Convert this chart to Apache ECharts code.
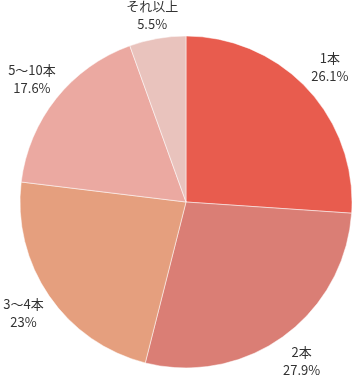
<!DOCTYPE html>
<html>
<head>
<meta charset="utf-8">
<script src="https://cdn.jsdelivr.net/npm/echarts@6/dist/echarts.min.js"></script>
<style>
  html, body { margin: 0; padding: 0; background: #fff; }
  #chart { width: 352px; height: 377px; }
</style>
</head>
<body>
<div id="chart"></div>
<script>
const categories = ['1本', '2本', '3～4本', '5～10本', 'それ以上']
const values = [26.1, 27.9, 23, 17.6, 5.5]
const colors = ['#e85c4e', '#da7e75', '#e59f7e', '#eba9a1', '#e9c3bd']

const chart = echarts.init(document.getElementById('chart'))

const pieData = categories.map((name, i) => ({
  name,
  value: values[i],
  itemStyle: { color: colors[i] }
}))

// transparent ring just outside the pie, used only to place the labels
const labelData = categories.map((name, i) => ({
  name,
  value: values[i],
  label: i === 4 ? { offset: [0, 7] } : {}
}))

chart.setOption({
  animation: false,
  series: [
    {
      type: 'pie',
      center: [186, 202],
      radius: [0, 166],
      startAngle: 90,
      clockwise: true,
      silent: true,
      label: { show: false },
      labelLine: { show: false },
      itemStyle: { borderColor: '#fff', borderWidth: 0.5 },
      data: pieData
    },
    {
      type: 'pie',
      center: [186, 202],
      radius: [184, 204],
      startAngle: 90,
      clockwise: true,
      silent: true,
      itemStyle: { color: 'transparent' },
      labelLine: { show: false },
      label: {
        show: true,
        position: 'inside',
        formatter: (p) => `${p.name}\n${p.value}%`,
        color: '#333',
        fontFamily: '"Noto Sans CJK JP", "Noto Sans", sans-serif',
        fontSize: 13,
        lineHeight: 18,
        align: 'center'
      },
      data: labelData
    }
  ]
})
</script>
</body>
</html>
